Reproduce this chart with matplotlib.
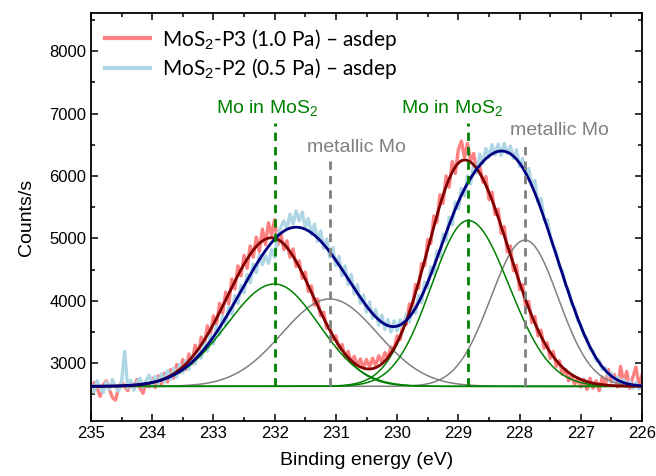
import numpy as np
import matplotlib
matplotlib.use("Agg")
import matplotlib.pyplot as plt
from matplotlib.ticker import MultipleLocator

plt.rcParams["font.family"] = ["Liberation Sans", "DejaVu Sans"]
plt.rcParams["mathtext.fontset"] = "custom"
plt.rcParams["mathtext.rm"] = "Liberation Sans"
plt.rcParams["mathtext.it"] = "Liberation Sans:italic"

# measured Mo 3d spectra, 235.00 -> 226.00 eV in 0.05 eV steps
p3_counts = [
    2560, 2690, 2600, 2470, 2650, 2720, 2580, 2450, 2410, 2600,
    2700, 2630, 2560, 2690, 2620, 2740, 2600, 2520, 2690, 2620,
    2760, 2610, 2800, 2660, 2840, 2700, 2900, 2760, 2980, 2850,
    3060, 2900, 3150, 2990, 3290, 3120, 3420, 3290, 3600, 3460,
    3760, 3620, 3960, 3800, 4140, 3950, 4350, 4190, 4560, 4400,
    4730, 4520, 4880, 4700, 5020, 4790, 5150, 4900, 5250, 5050,
    5300, 4900, 5080, 4820, 4960, 4700, 4830, 4550, 4640, 4360,
    4460, 4150, 4240, 3930, 4030, 3760, 3820, 3560, 3600, 3380,
    3440, 3230, 3300, 3100, 3190, 3010, 3110, 2960, 3070, 2930,
    3060, 2940, 3080, 2960, 3120, 3020, 3170, 3090, 3260, 3230,
    3440, 3380, 3660, 3620, 3950, 3880, 4260, 4200, 4600, 4560,
    4980, 4920, 5360, 5260, 5700, 5560, 6000, 5820, 6230, 6040,
    6420, 6560, 6300, 6520, 6240, 6360, 6060, 6160, 5900, 5990,
    5620, 5740, 5380, 5470, 5080, 5190, 4780, 4880, 4480, 4570,
    4180, 4260, 3900, 3990, 3650, 3750, 3440, 3530, 3240, 3330,
    3080, 3190, 2950, 3040, 2820, 2900, 2720, 2800, 2660, 2760,
    2620, 2740, 2580, 2760, 2600, 2720, 2560, 2780, 2640, 2900,
    2700, 2820, 2620, 2950, 2680, 2870, 2600, 2780, 2940, 2650,
    2810,
]
p2_counts = [
    2660, 2540, 2720, 2600, 2530, 2700, 2580, 2740, 2620, 2550,
    2700, 3190, 2600, 2730, 2570, 2700, 2760, 2620, 2720, 2810,
    2640, 2790, 2680, 2830, 2700, 2880, 2740, 2920, 2780, 2980,
    2850, 3040, 2900, 3120, 2990, 3200, 3080, 3320, 3190, 3450,
    3310, 3600, 3460, 3760, 3610, 3900, 3780, 4080, 3960, 4250,
    4130, 4420, 4290, 4590, 4450, 4740, 4580, 4720, 4600, 4820,
    4700, 5060, 5180, 5280, 5150, 5390, 5230, 5440, 5280, 5420,
    5180, 5320, 5060, 5230, 4950, 5120, 4840, 4990, 4700, 4850,
    4560, 4710, 4400, 4560, 4260, 4420, 4110, 4260, 3960, 4090,
    3820, 3980, 3720, 3860, 3610, 3770, 3540, 3700, 3500, 3680,
    3520, 3700, 3560, 3790, 3660, 3900, 3800, 4090, 3970, 4300,
    4210, 4540, 4430, 4800, 4700, 5070, 4960, 5340, 5220, 5580,
    5470, 5800, 5680, 6000, 5870, 6190, 6050, 6350, 6200, 6440,
    6300, 6500, 6340, 6510, 6330, 6520, 6360, 6480, 6280, 6420,
    6150, 6280, 6010, 6120, 5840, 5930, 5580, 5640, 5300, 5300,
    5050, 4880, 4780, 4550, 4480, 4250, 4180, 3950, 3890, 3680,
    3620, 3440, 3400, 3230, 3200, 3040, 3050, 2900, 2930, 2800,
    2840, 2720, 2780, 2660, 2740, 2630, 2710, 2600, 2690, 2590,
    2660,
]
energy = np.round(np.linspace(235.0, 226.0, len(p3_counts)), 2)

# peak fit results: (center eV, height, sigma on high-BE side, sigma on low-BE side)
background = 2630
p3_mos2 = [(232.05, 2380, 0.72, 0.68), (228.90, 3626, 0.60, 0.72)]
p2_mos2 = [(232.00, 1640, 0.78, 0.72), (228.84, 2657, 0.60, 0.67)]
p2_metal = [(231.10, 1400, 0.78, 0.78), (227.91, 2343, 0.56, 0.54)]
p2_s2s = [(227.20, 380, 0.40, 0.40)]

# marker lines: (position eV, top of line in counts)
mos2_marks = [(232.00, 6850), (228.84, 6850)]
metal_marks = [(231.10, 6256), (227.91, 6545)]
# labels: (x eV, y counts)
mos2_labels = [(232.12, 7010), (229.10, 7010)]
metal_labels = [(230.67, 6384), (227.35, 6657)]


def peak(e, center, height, s_hi, s_lo):
    s = np.where(e >= center, s_hi, s_lo)
    return height * np.exp(-(e - center) ** 2 / (2 * s ** 2))


e_fit = np.linspace(235.0, 226.0, 1801)

fig = plt.figure(figsize=(6.56, 4.76), dpi=100)
ax = fig.add_axes([0.1387, 0.1155, 0.84, 0.8572])

red_raw = "#ff8080"
blue_raw = "#aed6e4"

ax.plot(energy, p3_counts, color=red_raw, lw=2.4,
        label="MoS$_2$-P3 (1.0 Pa) \u2013 asdep", zorder=2)
ax.plot(energy, p2_counts, color=blue_raw, lw=2.4,
        label="MoS$_2$-P2 (0.5 Pa) \u2013 asdep", zorder=2)

for c, h, s1, s2 in p2_metal:
    ax.plot(e_fit, background + peak(e_fit, c, h, s1, s2), color="#808080", lw=1.1, zorder=3)
for c, h, s1, s2 in p3_mos2 + p2_mos2:
    ax.plot(e_fit, background + peak(e_fit, c, h, s1, s2), color="#008000", lw=1.1, zorder=3)

p3_fit = background + sum(peak(e_fit, *p) for p in p3_mos2)
p2_fit = background + sum(peak(e_fit, *p) for p in p2_mos2 + p2_metal + p2_s2s)
ax.plot(e_fit, p3_fit, color="#800000", lw=2.0, zorder=4)
ax.plot(e_fit, p2_fit, color="#000080", lw=2.0, zorder=4)

for x, top in mos2_marks:
    ax.plot([x, x], [background, top], color="#008000", lw=2.0,
            dashes=(3, 2.2), zorder=5)
for x, top in metal_marks:
    ax.plot([x, x], [background, top], color="#808080", lw=2.0,
            dashes=(3, 2.2), zorder=5)

for x, y in mos2_labels:
    ax.text(x, y, "Mo in MoS$_2$", color="#008000", fontsize=14,
            ha="center", va="baseline")
for x, y in metal_labels:
    ax.text(x, y, "metallic Mo", color="#808080", fontsize=14,
            ha="center", va="baseline")

ax.set_xlim(235, 226)
ax.set_ylim(2075, 8610)
ax.xaxis.set_major_locator(MultipleLocator(1))
ax.xaxis.set_minor_locator(MultipleLocator(0.5))
ax.yaxis.set_major_locator(MultipleLocator(1000))
ax.yaxis.set_minor_locator(MultipleLocator(500))
ax.set_yticks([3000, 4000, 5000, 6000, 7000, 8000])
ax.tick_params(which="both", direction="in", top=True, right=True,
               width=1.1, labelsize=12)
ax.tick_params(which="major", length=5)
ax.tick_params(which="minor", length=3)
for sp in ax.spines.values():
    sp.set_linewidth(1.3)

ax.set_xlabel("Binding energy (eV)", fontsize=14, labelpad=8)
ax.set_ylabel("Counts/s", fontsize=14, labelpad=10)

leg = ax.legend(loc="upper left", frameon=False, handlelength=2.2,
                handletextpad=0.55, labelspacing=0.22, borderaxespad=0.25,
                prop={"family": ["Lato", "DejaVu Sans"], "size": 15})
for line in leg.get_lines():
    line.set_linewidth(3)

fig.savefig("out.png", dpi=100)
